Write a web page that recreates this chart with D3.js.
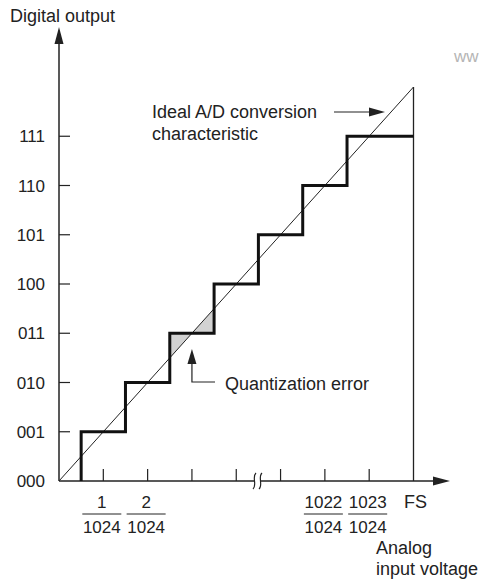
<!DOCTYPE html>
<html>
<head>
<meta charset="utf-8">
<script src="https://cdn.jsdelivr.net/npm/d3@7"></script>
<style>
  body { margin: 0; background: #fff; }
  text { font-family: "Liberation Sans", Arial, sans-serif; fill: #222; }
</style>
</head>
<body>
<svg width="479" height="583"></svg>
<script>
// output codes (y axis) and input steps (x axis, in 1/1024 FS units, compressed)
const codes = ["000", "001", "010", "011", "100", "101", "110", "111"]
const tickSteps = [1, 2, 3, 4, 5, 6, 7, 8]
const fracSteps = [1, 2, 6, 7]
const fracNums = ["1", "2", "1022", "1023"]
const fracDen = "1024"
const codeEdges = [0.5, 1.5, 2.5, 3.5, 4.5, 5.5, 6.5]   // where the output code changes
const fullScale = 8
const shadedCode = 3

const svg = d3.select("svg")
const x = d3.scaleLinear().domain([0, 8]).range([59, 413.5])
const y = d3.scaleLinear().domain([0, 8]).range([481, 87])
const ink = "#222"
const fs = 18

// y axis
svg.append("line")
  .attr("x1", x(0)).attr("y1", y(0)).attr("x2", x(0)).attr("y2", 40)
  .attr("stroke", ink).attr("stroke-width", 1.5)
svg.append("path")
  .attr("d", `M${x(0)},27 L${x(0) - 4.5},44 L${x(0) + 4.5},44 Z`)
  .attr("fill", ink)

// x axis with a break
const brk = 257.5
svg.append("line")
  .attr("x1", x(0)).attr("y1", y(0)).attr("x2", brk - 3).attr("y2", y(0))
  .attr("stroke", ink).attr("stroke-width", 1.5)
svg.append("line")
  .attr("x1", brk + 3).attr("y1", y(0)).attr("x2", 436).attr("y2", y(0))
  .attr("stroke", ink).attr("stroke-width", 1.5)
svg.append("path")
  .attr("d", `M450,${y(0)} L433,${y(0) - 4.5} L433,${y(0) + 4.5} Z`)
  .attr("fill", ink)
;[brk - 3, brk + 3].forEach(cx => {
  svg.append("path")
    .attr("d", `M${cx + 1.5},${y(0) - 8} C${cx - 3},${y(0) - 4} ${cx + 3},${y(0) + 4} ${cx - 1.5},${y(0) + 8}`)
    .attr("fill", "none").attr("stroke", ink).attr("stroke-width", 1.2)
})

// y ticks and labels
svg.selectAll(".ytick").data(codes.slice(1)).enter().append("line")
  .attr("x1", x(0)).attr("x2", x(0) + 11)
  .attr("y1", (d, i) => y(i + 1)).attr("y2", (d, i) => y(i + 1))
  .attr("stroke", ink).attr("stroke-width", 1.2)
svg.selectAll(".ylab").data(codes).enter().append("text")
  .attr("x", 45).attr("y", (d, i) => y(i) + 6)
  .attr("text-anchor", "end").attr("font-size", 17)
  .text(d => d)

// x ticks
svg.selectAll(".xtick").data(tickSteps.filter(s => s < fullScale)).enter().append("line")
  .attr("x1", d => x(d)).attr("x2", d => x(d))
  .attr("y1", y(0)).attr("y2", y(0) - 12)
  .attr("stroke", ink).attr("stroke-width", 1.2)

// fraction labels
const frac = svg.selectAll(".frac").data(fracSteps).enter().append("g")
  .attr("transform", d => `translate(${x(d) - 1.5},0)`)
frac.append("text")
  .attr("y", 508).attr("text-anchor", "middle").attr("font-size", 17)
  .text((d, i) => fracNums[i])
frac.append("line")
  .attr("x1", -19.5).attr("x2", 19.5).attr("y1", 514).attr("y2", 514)
  .attr("stroke", ink).attr("stroke-width", 1)
frac.append("text")
  .attr("y", 533).attr("text-anchor", "middle").attr("font-size", 17)
  .text(fracDen)
svg.append("text")
  .attr("x", x(fullScale) + 2).attr("y", 508).attr("text-anchor", "middle").attr("font-size", fs)
  .text("FS")

// axis titles
svg.append("text").attr("x", 10).attr("y", 22).attr("font-size", fs).text("Digital output")
svg.append("text").attr("x", 376).attr("y", 554).attr("font-size", fs).text("Analog")
svg.append("text").attr("x", 376).attr("y", 575).attr("font-size", fs).text("input voltage")

// shaded quantization error at one code
const lo = codeEdges[shadedCode - 1], hi = codeEdges[shadedCode]
svg.append("path")
  .attr("d", `M${x(lo)},${y(lo)} L${x(lo)},${y(shadedCode)} L${x(shadedCode)},${y(shadedCode)} Z
              M${x(shadedCode)},${y(shadedCode)} L${x(hi)},${y(shadedCode)} L${x(hi)},${y(hi)} Z`)
  .attr("fill", "#d2d2d2")

// ideal line and full-scale line
svg.append("line")
  .attr("x1", x(0)).attr("y1", y(0)).attr("x2", x(fullScale)).attr("y2", y(fullScale))
  .attr("stroke", ink).attr("stroke-width", 1)
svg.append("line")
  .attr("x1", x(fullScale)).attr("y1", y(0)).attr("x2", x(fullScale)).attr("y2", y(fullScale))
  .attr("stroke", ink).attr("stroke-width", 1.3)

// staircase
const stairPts = [[codeEdges[0], 0]]
codeEdges.forEach((e, i) => {
  stairPts.push([e, i + 1])
  stairPts.push([i + 1 < codeEdges.length ? codeEdges[i + 1] : fullScale, i + 1])
})
svg.append("path")
  .attr("d", d3.line().x(d => x(d[0])).y(d => y(d[1]))(stairPts))
  .attr("fill", "none").attr("stroke", "#111").attr("stroke-width", 3)
  .attr("stroke-linejoin", "miter")

// annotations
svg.append("text").attr("x", 152).attr("y", 118).attr("font-size", fs).text("Ideal A/D conversion")
svg.append("text").attr("x", 152).attr("y", 140).attr("font-size", fs).text("characteristic")
svg.append("line").attr("x1", 334).attr("y1", 112).attr("x2", 372).attr("y2", 112)
  .attr("stroke", ink).attr("stroke-width", 1.2)
svg.append("path").attr("d", "M385,112 L369,107.5 L369,116.5 Z").attr("fill", ink)

const qx = x(shadedCode)
svg.append("path").attr("d", `M${qx},363 L${qx},382 L215,382`)
  .attr("fill", "none").attr("stroke", ink).attr("stroke-width", 1.2)
svg.append("path").attr("d", `M${qx},349 L${qx - 4.5},364 L${qx + 4.5},364 Z`).attr("fill", ink)
svg.append("text").attr("x", 225).attr("y", 390).attr("font-size", fs).text("Quantization error")

// faint watermark fragment
svg.append("text").attr("x", 454).attr("y", 62).attr("font-size", 17)
  .style("fill", "#b5b5b5").text("ww")
</script>
</body>
</html>
